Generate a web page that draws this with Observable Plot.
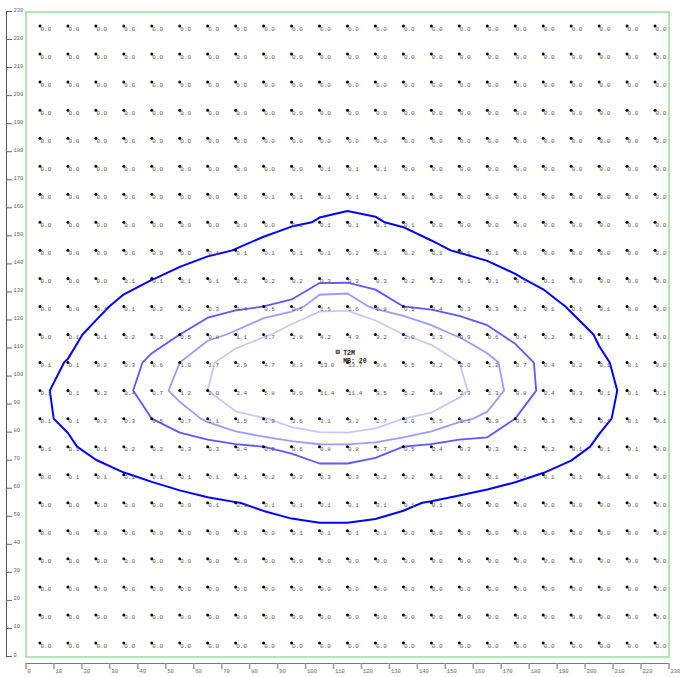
<!DOCTYPE html>
<html>
<head>
<meta charset="utf-8">
<script src="https://cdn.jsdelivr.net/npm/d3@7"></script>
<script src="https://cdn.jsdelivr.net/npm/@observablehq/plot@0.6"></script>
<style>
  html, body { margin: 0; padding: 0; background: #fff; }
  #chart svg { display: block; }
</style>
</head>
<body>
<div id="chart"></div>
<script>
// Grid columns (x) and rows (y, listed top to bottom)
const xCenters = [5, 15, 25, 35, 45, 55, 65, 75, 85, 95, 105, 115, 125, 135, 145, 155, 165, 175, 185, 195, 205, 215, 225];
const yCenters = [225, 215, 205, 195, 185, 175, 165, 155, 145, 135, 125, 115, 105, 95, 85, 75, 65, 55, 45, 35, 25, 15, 5];

// Values at each grid point, one row per y (top to bottom)
const row225 = [0,0,0,0,0,0,0,0,0,0,0,0,0,0,0,0,0,0,0,0,0,0,0];
const row215 = [0,0,0,0,0,0,0,0,0,0,0,0,0,0,0,0,0,0,0,0,0,0,0];
const row205 = [0,0,0,0,0,0,0,0,0,0,0,0,0,0,0,0,0,0,0,0,0,0,0];
const row195 = [0,0,0,0,0,0,0,0,0,0,0,0,0,0,0,0,0,0,0,0,0,0,0];
const row185 = [0,0,0,0,0,0,0,0,0,0,0,0,0,0,0,0,0,0,0,0,0,0,0];
const row175 = [0,0,0,0,0,0,0,0,0,0,0.1,0.1,0.1,0,0,0,0,0,0,0,0,0,0];
const row165 = [0,0,0,0,0,0,0,0,0.1,0.1,0.1,0.1,0.1,0.1,0,0,0,0,0,0,0,0,0];
const row155 = [0,0,0,0,0,0,0,0,0,0.1,0.1,0.1,0.1,0.1,0,0,0,0,0,0,0,0,0];
const row145 = [0,0,0,0,0,0,0.1,0.1,0.1,0.1,0.1,0.2,0.1,0.2,0.1,0.1,0.1,0,0,0,0,0,0];
const row135 = [0,0,0,0.1,0.1,0.1,0.1,0.2,0.2,0.2,0.3,0.3,0.3,0.2,0.2,0.1,0.1,0.1,0.1,0,0,0,0];
const row125 = [0,0,0.1,0.1,0.2,0.2,0.3,0.4,0.5,0.6,1.5,1.6,0.8,0.5,0.4,0.3,0.3,0.2,0.1,0.1,0.1,0,0];
const row115 = [0,0.1,0.1,0.2,0.3,0.5,0.8,1.1,1.7,2.8,4.2,4.3,3.2,2.0,1.3,0.9,0.6,0.4,0.2,0.1,0.1,0.1,0];
const row105 = [0.1,0.1,0.2,0.3,0.6,1.0,1.7,2.9,4.7,8.3,13.0,13.7,9.6,6.5,3.2,2.0,1.2,0.7,0.4,0.2,0.1,0.1,0];
const row95  = [0.1,0.1,0.2,0.4,0.7,1.2,2.0,3.4,5.8,9.0,11.4,11.4,9.5,6.2,3.8,2.3,1.3,0.8,0.4,0.3,0.1,0.1,0.1];
const row85  = [0.1,0.1,0.2,0.3,0.5,0.7,1.1,1.5,1.9,2.6,3.1,3.2,2.7,2.0,1.5,1.1,0.9,0.5,0.3,0.2,0.1,0.1,0.1];
const row75  = [0.1,0.1,0.1,0.2,0.2,0.3,0.3,0.4,0.5,0.6,0.8,0.8,0.7,0.5,0.4,0.3,0.3,0.2,0.2,0.1,0.1,0.1,0];
const row65  = [0,0.1,0.1,0.1,0.1,0.1,0.1,0.1,0.2,0.2,0.3,0.3,0.2,0.2,0.1,0.1,0.1,0.1,0.1,0.1,0.1,0,0];
const row55  = [0,0,0,0,0,0,0.1,0.1,0.1,0.1,0.1,0.1,0.1,0.1,0.1,0,0,0,0,0,0,0,0];
const row45  = [0,0,0,0,0,0,0,0,0,0.1,0.1,0.1,0.1,0,0,0,0,0,0,0,0,0,0];
const row35  = [0,0,0,0,0,0,0,0,0,0,0,0,0,0,0,0,0,0,0,0,0,0,0];
const row25  = [0,0,0,0,0,0,0,0,0,0,0,0,0,0,0,0,0,0,0,0,0,0,0];
const row15  = [0,0,0,0,0,0,0,0,0,0,0,0,0,0,0,0,0,0,0,0,0,0,0];
const row5   = [0,0,0,0,0,0,0,0,0,0,0,0,0,0,0,0,0,0,0,0,0,0,0];

const rows = [row225,row215,row205,row195,row185,row175,row165,row155,row145,row135,row125,row115,row105,row95,row85,row75,row65,row55,row45,row35,row25,row15,row5];

// Tick labels
const xTicks = [0,10,20,30,40,50,60,70,80,90,100,110,120,130,140,150,160,170,180,190,200,210,220,230];
const yTicks = [0,10,20,30,40,50,60,70,80,90,100,110,120,130,140,150,160,170,180,190,200,210,220,230];

// Contour levels and their colours
const contourLevels = [0.1, 0.5, 1, 2];
const contourColors = ["#0000ff", "#5a5aff", "#9c9cff", "#c8c8ff"];

// Station annotation
const stations = [{x: 111.5, y: 108.8, label: "T2M\nMB: 20"}];

// Build tables
const points = [];
rows.forEach((r, j) => r.forEach((v, i) => points.push({x: xCenters[i], y: yCenters[j], v})));
const flat = rows.flat();
const xMin = xTicks[0], xMax = xTicks[xTicks.length - 1];
const yMin = yTicks[0], yMax = yTicks[yTicks.length - 1];
const gridStep = xCenters[1] - xCenters[0];

const font = "Liberation Mono, DejaVu Sans Mono, monospace";

// The lowest level is drawn from the lightly smoothed grid (values are rounded to 0.1)
const contourOpts = (i) => i === 0
  ? {thresholds: [0.115], blur: 0.35, strokeWidth: 2}
  : {thresholds: [contourLevels[i]], strokeWidth: 1.8};

const chart = Plot.plot({
  width: 680,
  height: 677,
  marginLeft: 25.5,
  marginRight: 11.5,
  marginTop: 11.5,
  marginBottom: 20.5,
  x: {domain: [xMin, xMax], label: null},
  y: {domain: [yMin, yMax], label: null},
  style: {fontFamily: font, background: "#fff"},
  marks: [
    Plot.frame({stroke: "#96e096", strokeWidth: 1.5}),
    ...contourLevels.map((t, i) => Plot.contour(flat, {
      width: xCenters.length,
      height: yCenters.length,
      x1: xCenters[0] - gridStep / 2,
      x2: xCenters[xCenters.length - 1] + gridStep / 2,
      y1: yCenters[0] + gridStep / 2,
      y2: yCenters[yCenters.length - 1] - gridStep / 2,
      value: d => d,
      fill: "none",
      stroke: contourColors[i],
      ...contourOpts(i)
    })),
    Plot.dot(points, {x: "x", y: "y", r: 1.5, fill: "#000", stroke: null}),
    Plot.text(points, {
      x: "x", y: "y", text: d => d.v.toFixed(1),
      textAnchor: "start", lineAnchor: "middle", dx: 0.5, dy: 2.6,
      fontSize: 6, fill: "#5a5a5a"
    }),
    Plot.dot(stations, {x: "x", y: "y", symbol: "square", r: 1.8, fill: "#999", stroke: "#333", strokeWidth: 0.8}),
    Plot.text(stations, {
      x: "x", y: "y", text: "label", textAnchor: "start", lineAnchor: "top",
      dx: 5.5, dy: -3, fontSize: 6.5, lineHeight: 1.25, fontWeight: "bold", fill: "#222"
    }),
    // Y axis (offset to the left, ticks pointing right, labels above ticks)
    Plot.ruleX([xMin], {y1: yMin, y2: yMax, dx: -19.5, stroke: "#555", strokeWidth: 1}),
    Plot.axisY(yTicks, {
      anchor: "left", label: null, tickSize: -6, tickPadding: -1, dx: -19.5,
      textAnchor: "start", lineAnchor: "bottom", dy: -0.5,
      fontSize: 5.5, color: "#666", tickFormat: d => d
    }),
    // X axis (offset below, ticks pointing down, labels to the right of ticks)
    Plot.ruleY([yMin], {x1: xMin, x2: xMax, dy: 6.5, stroke: "#777", strokeWidth: 1}),
    Plot.axisX(xTicks, {anchor: "bottom", label: null, tickSize: 6, dy: 6.5, tickFormat: () => "", stroke: "#999", strokeWidth: 1.5}),
    Plot.axisX(xTicks, {
      anchor: "bottom", label: null, tickSize: 0, tickPadding: 6, dy: 6.5, dx: 1.5,
      textAnchor: "start", fontSize: 5.5, color: "#666", tickFormat: d => d
    })
  ]
});

document.getElementById("chart").appendChild(chart);
</script>
</body>
</html>
